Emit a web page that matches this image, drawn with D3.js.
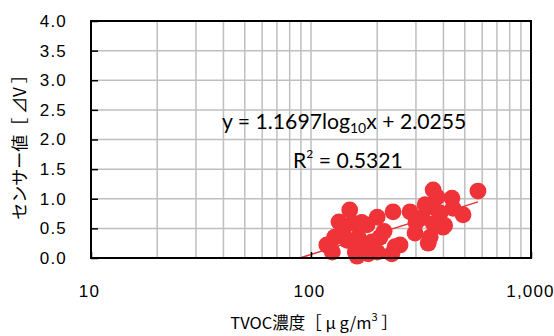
<!DOCTYPE html>
<html><head><meta charset="utf-8">
<script src="https://cdn.jsdelivr.net/npm/d3@7"></script>
<style>body{margin:0;background:#fff}svg{display:block}</style>
</head><body>
<svg id="c" width="554" height="336"></svg>
<script>
// TVOC concentration (µg/m3)
const tvoc = [150,134,118,125,140,155,164,159,180,200,189,206,236,241,254,282,297,320,341,359,374,359,386,398,437,442,491,574,348,162,182,200,233,146,170,128,360,405,330,300,215,172];
// sensor value (ΔV)
const sensor = [0.81,0.61,0.22,0.10,0.42,0.59,0.35,0.10,0.56,0.69,0.27,0.35,0.78,0.19,0.22,0.78,0.42,0.68,0.25,1.15,1.03,0.86,0.76,0.52,1.01,0.84,0.73,1.13,0.35,0.03,0.07,0.10,0.07,0.30,0.60,0.35,0.58,0.55,0.90,0.60,0.45,0.12];
const yTicks = [0,0.5,1.0,1.5,2.0,2.5,3.0,3.5,4.0];
const xTicks = [10,100,1000];
const xMinor = [20,30,40,50,60,70,80,90,200,300,400,500,600,700,800,900];
const trendSlope = 1.1697, trendIntercept = -2.28;
const eqText = ["y = 1.1697log", "10", "x + 2.0255"];
const r2Text = ["R", "2", " = 0.5321"];

const svg = d3.select("#c");
const L=91,R=531,T=21,B=258;
const x = d3.scaleLog().domain([10,1000]).range([L,R]);
const y = d3.scaleLinear().domain([0,4]).range([B,T]);

const g = svg.append("g");
// gridlines
g.selectAll(".hg").data(yTicks.slice(1,-1)).enter().append("line")
 .attr("x1",L).attr("x2",R).attr("y1",d=>y(d)).attr("y2",d=>y(d))
 .attr("stroke","#bfbfbf").attr("stroke-width",1.5);
g.selectAll(".vg").data(xMinor.concat([100])).enter().append("line")
 .attr("y1",T).attr("y2",B).attr("x1",d=>x(d)).attr("x2",d=>x(d))
 .attr("stroke","#bfbfbf").attr("stroke-width",1.5);

// trendline
const tx0 = Math.pow(10,-trendIntercept/trendSlope), tx1 = d3.max(tvoc);
g.append("line").attr("x1",x(tx0)).attr("y1",y(0)).attr("x2",x(tx1))
 .attr("y2",y(trendSlope*Math.log10(tx1)+trendIntercept))
 .attr("stroke","#e8312f").attr("stroke-width",1.5);

// points
g.selectAll("circle").data(tvoc).enter().append("circle")
 .attr("cx",d=>x(d)).attr("cy",(d,i)=>y(sensor[i])).attr("r",8.4)
 .attr("fill","#ef3338");

const tickFont = "Liberation Sans, Arial, sans-serif";
// axes ticks
const ya = d3.axisLeft(y).tickValues(yTicks).tickFormat(d3.format(".1f")).tickSize(-7).tickPadding(24);
const yg = svg.append("g").attr("transform",`translate(${L},0)`).call(ya);
yg.select(".domain").remove();
yg.selectAll("line").attr("stroke","#000").attr("stroke-width",1.5);
yg.selectAll("text").attr("font-family",tickFont).attr("font-size",17).attr("letter-spacing",1.2).attr("fill","#000");

const xa = d3.axisBottom(x).tickValues(xTicks).tickFormat(d3.format(",")).tickSize(-6).tickPadding(27);
const xg = svg.append("g").attr("transform",`translate(0,${B})`).call(xa);
xg.select(".domain").remove();
xg.selectAll("line").attr("stroke","#000").attr("stroke-width",1.5);
xg.selectAll("text").attr("font-family",tickFont).attr("font-size",17).attr("letter-spacing",1.2).attr("fill","#000");
xg.selectAll("text").attr("dx",d=>d===1000?-1:-2);

// frame
svg.append("rect").attr("x",L).attr("y",T).attr("width",R-L).attr("height",B-T)
 .attr("fill","none").attr("stroke","#000").attr("stroke-width",2);

// equation
const eqFont = "Lato, 'Open Sans', sans-serif";
const eq = svg.append("text").attr("x",222).attr("y",129).attr("font-family",eqFont).attr("font-size",21.2).attr("fill","#000");
eq.append("tspan").text(eqText[0]);
eq.append("tspan").text(eqText[1]).attr("font-size",14).attr("dy",4);
eq.append("tspan").text(eqText[2]).attr("dy",-4);
const r2 = svg.append("text").attr("x",293).attr("y",168).attr("font-family",eqFont).attr("font-size",21.2).attr("fill","#000");
r2.append("tspan").text(r2Text[0]);
r2.append("tspan").text(r2Text[1]).attr("font-size",12).attr("dy",-10);
r2.append("tspan").text(r2Text[2]).attr("dy",10);

// axis titles
svg.append("text").attr("transform","translate(26,143) rotate(-90)").attr("text-anchor","middle")
 .attr("font-family","'Noto Sans CJK JP', sans-serif").attr("font-size",17).attr("fill","#000")
 .text("センサー値［ ⊿V ］");
const xt = svg.append("text").attr("x",314).attr("y",329).attr("text-anchor","middle")
 .attr("font-family","'Noto Sans CJK JP', sans-serif").attr("font-size",16.5).attr("fill","#000");
xt.append("tspan").text("TVOC濃度［ μ g/m");
xt.append("tspan").text("3").attr("font-size",11).attr("dy",-8);
xt.append("tspan").text(" ］").attr("dy",8);
</script>
</body></html>
